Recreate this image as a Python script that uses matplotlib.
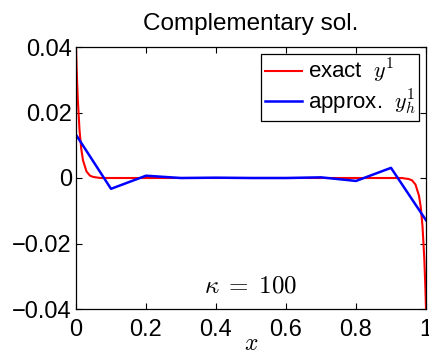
import matplotlib
matplotlib.use("Agg")
import matplotlib.pyplot as plt

plt.rcParams['font.family'] = ['Liberation Sans', 'DejaVu Sans']
plt.rcParams['mathtext.fontset'] = 'cm'

# exact solution (dense near boundary layers)
x_exact = [0.0, 0.002, 0.005, 0.01, 0.015, 0.02, 0.03, 0.04, 0.05, 0.07, 0.1,
           0.3, 0.5, 0.7, 0.9, 0.93, 0.95, 0.96, 0.97, 0.98, 0.985, 0.99,
           0.995, 0.998, 1.0]
y_exact = [0.0400, 0.0328, 0.0243, 0.0147, 0.0089, 0.0054, 0.0020, 0.0007,
           0.0003, 0.0000, 0.0, 0.0, 0.0, 0.0, 0.0, -0.0000, -0.0003,
           -0.0007, -0.0020, -0.0054, -0.0089, -0.0147, -0.0243, -0.0328,
           -0.0400]

# approximate solution at nodes
x_approx = [0.0, 0.1, 0.2, 0.3, 0.4, 0.5, 0.6, 0.7, 0.8, 0.9, 1.0]
y_approx = [0.0132, -0.0033, 0.0007, 0.0, 0.0001, 0.0, 0.0, 0.0002,
            -0.0009, 0.0031, -0.0129]

x_ticks = [0, 0.2, 0.4, 0.6, 0.8, 1]
x_ticklabels = ['0', '0.2', '0.4', '0.6', '0.8', '1']
y_ticks = [-0.04, -0.02, 0, 0.02, 0.04]
y_ticklabels = ['\u22120.04', '\u22120.02', '0', '0.02', '0.04']

fig = plt.figure(figsize=(4.29, 3.54), dpi=100)
ax = fig.add_axes([76/429, 1-309/354, 350/429, 262/354])

ax.plot(x_exact, y_exact, color='#ff0000', lw=1.5, label='exact  $y^1$')
ax.plot(x_approx, y_approx, color='#0000ff', lw=1.8, label='approx.  $y_h^1$')

ax.set_xlim(0, 1)
ax.set_ylim(-0.04, 0.04)
ax.set_xticks(x_ticks)
ax.set_xticklabels(x_ticklabels)
ax.set_yticks(y_ticks)
ax.set_yticklabels(y_ticklabels)
ax.tick_params(direction='in', top=True, right=True, length=4, width=0.8,
               labelsize=17)
ax.tick_params(axis='x', pad=7)
ax.tick_params(axis='y', pad=3)
for s in ax.spines.values():
    s.set_linewidth(0.9)

ax.set_title('Complementary sol.', fontsize=17.5, pad=12)
ax.set_xlabel('$x$', fontsize=17)
ax.xaxis.set_label_coords(0.5, -0.09)

ax.text(0.5, -0.0327, r'$\kappa\;=\;100$', fontsize=18, ha='center', va='center')

leg = ax.legend(loc='upper right', fontsize=16, frameon=True, fancybox=False,
                edgecolor='black', framealpha=1, borderaxespad=0.3,
                handlelength=1.7, handletextpad=0.25, borderpad=0.15,
                labelspacing=0.1)
leg.get_frame().set_linewidth(0.9)

fig.savefig('out.png', dpi=100)
